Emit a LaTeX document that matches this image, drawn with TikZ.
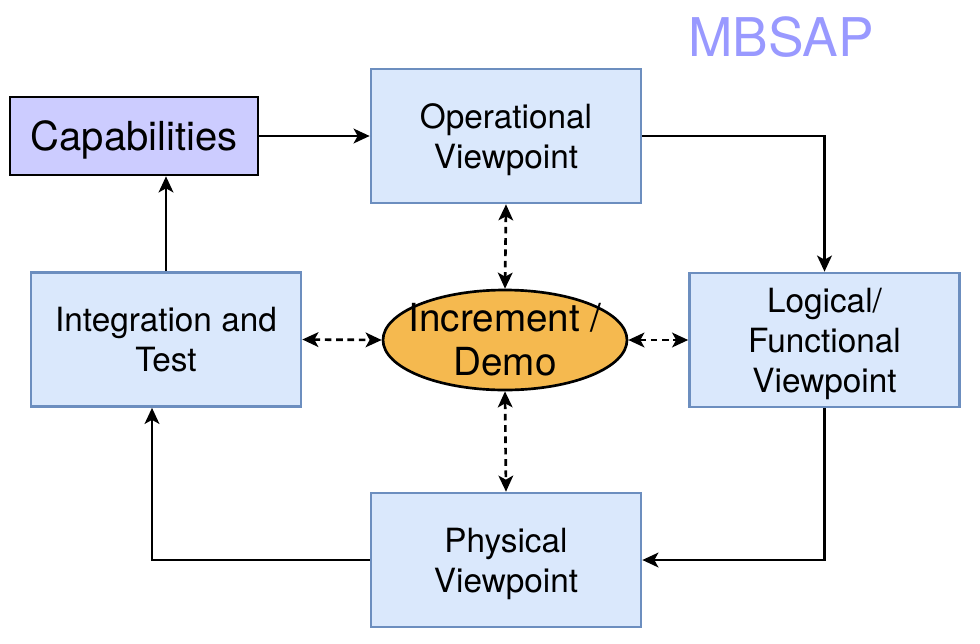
\documentclass[tikz,border=0pt]{standalone}
\usepackage{fontspec}
\setmainfont{TeX Gyre Heros}
\usepackage{tikz}
\usetikzlibrary{arrows.meta, positioning, shapes.geometric, calc}

\definecolor{viewfill}{HTML}{DAE8FC}
\definecolor{viewline}{HTML}{6C8EBF}
\definecolor{capfill}{HTML}{CCCCFF}
\definecolor{demofill}{HTML}{F5B94F}
\definecolor{titlecol}{HTML}{9999FF}

\tikzset{
  viewbox/.style={draw=viewline, fill=viewfill, line width=2pt, inner sep=0pt,
    minimum width=202.5pt, minimum height=100.5pt, align=center, text depth=0pt,
    font=\fontsize{25}{30}\selectfont},
  capbox/.style={draw=black, fill=capfill, line width=2pt, inner sep=0pt, text depth=0pt,
    minimum width=186pt, minimum height=58.5pt, font=\fontsize{30}{36}\selectfont},
  demonode/.style={ellipse, draw=black, fill=demofill, line width=2pt,
    inner xsep=-14pt, inner ysep=-6pt,
    minimum width=183pt, minimum height=75pt, align=center,
    font=\fontsize{29}{33}\selectfont},
  flow/.style={line width=2pt, -{Stealth[length=12pt, width=11pt, inset=3pt]}},
  dashlink/.style={line width=2pt, dash pattern=on 5pt off 3.5pt,
    {Stealth[length=12pt, width=11pt, inset=3pt]}-{Stealth[length=12pt, width=11pt, inset=3pt]}}
}

\begin{document}
\begin{tikzpicture}[x=0.75pt, y=-0.75pt]
\useasboundingbox (0,0) rectangle (980,643);
% Title
\node[font=\fontsize{40}{48}\selectfont, text=titlecol] (title) at (781,37) {MBSAP};
% Boxes
\node[capbox] (cap) at (134,136) {Capabilities};
\node[viewbox] (op) at (506,136) {Operational\\Viewpoint};
\node[viewbox] (log) at (824.5,340) {Logical/\\Functional\\Viewpoint};
\node[viewbox] (int) at (166,339.5) {Integration and\\Test};
\node[viewbox] (phy) at (506,560) {Physical\\Viewpoint};
% Centre
\node[demonode] (demo) at (505,340) {Increment /\\Demo};
% Cycle
\draw[flow] (cap.east) -- (op.west |- cap.east);
\draw[flow] (op.east) -| (log.north);
\draw[flow] (log.south) |- (phy.east);
\draw[flow] (phy.west) -| ([xshift=-10.5pt]int.south);
\draw[flow] (int.north) -- (int.north |- cap.south);
% Links to the increment
\draw[dashlink] (op.south) -- (demo.north);
\draw[dashlink] (demo.south) -- (phy.north);
\draw[dashlink] (int.east) -- (demo.west);
\draw[dashlink] (demo.east) -- (log.west);
\end{tikzpicture}
\end{document}
